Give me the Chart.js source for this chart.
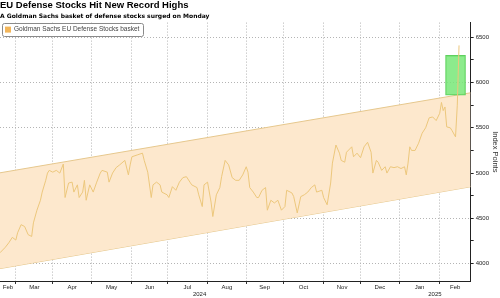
<!DOCTYPE html>
<html>
<head>
<meta charset="utf-8">
<script src="https://cdn.jsdelivr.net/npm/chart.js@4.4.1/dist/chart.umd.min.js"></script>
<style>
  html, body { margin: 0; padding: 0; background: #fff; }
  #wrap { width: 500px; height: 298px; }
</style>
</head>
<body>
<div id="wrap"><canvas id="chart" width="500" height="298"></canvas></div>
<script>
// x = trading sessions counted from Mon 19 Feb 2024 (session 0)
var sessions = [
  0, 3, 5, 7, 9, 10, 12, 14, 16, 18,
  19, 21, 23, 24, 26, 27, 28, 30, 32, 34,
  36, 37, 39, 41, 42, 44, 45, 47, 48, 49,
  51, 53, 55, 57, 58, 61, 62, 64, 66, 68,
  71, 73, 74, 75, 78, 81, 82, 84, 86, 87,
  89, 91, 92, 95, 96, 98, 100, 102, 104, 106,
  108, 109, 112, 113, 115, 116, 118, 120, 121, 123,
  125, 126, 128, 130, 132, 134, 136, 138, 140, 141,
  142, 144, 146, 147, 149, 151, 152, 154, 156, 158,
  160, 162, 163, 166, 167, 169, 171, 173, 175, 177,
  179, 180, 183, 184, 186, 188, 189, 191, 193, 194,
  196, 197, 200, 201, 203, 205, 207, 209, 211, 212,
  214, 215, 217, 219, 220, 222, 224, 226, 228, 230,
  231, 232, 233, 234, 236, 238, 240, 242, 244, 246,
  248, 250, 251, 252, 253, 254, 256, 257, 259, 260,
  261
];
var basket = [
  4120, 4180, 4230, 4290, 4260, 4340, 4430, 4410, 4320, 4300,
  4450, 4590, 4700, 4790, 4920, 5000, 5030, 5010, 5030, 5000,
  5100, 4730, 4890, 4900, 4790, 4870, 4730, 4790, 4920, 4700,
  4870, 4790, 4900, 5000, 5030, 5010, 4900, 5000, 5060, 5090,
  5140, 4980, 5090, 5180, 5200, 5220, 5140, 5010, 4730, 4870,
  4900, 4870, 4790, 4760, 4730, 4850, 4810, 4900, 4950, 4960,
  4900, 4870, 4840, 4760, 4630, 4870, 4900, 4680, 4520, 4760,
  4840, 4960, 5140, 5090, 4950, 4920, 4920, 4980, 5070, 5010,
  4840, 4790, 4730, 4730, 4810, 4840, 4590, 4700, 4670, 4700,
  4590, 4630, 4810, 4780, 4740, 4560, 4740, 4760, 4790, 4840,
  4870, 4790, 4810, 4730, 4650, 4890, 5110, 5310, 5220, 5140,
  5120, 5230, 5290, 5180, 5220, 5170, 5290, 5340, 5230, 5000,
  5140, 5120, 5030, 5070, 5000, 5070, 5060, 5070, 5050, 5070,
  4980, 5110, 5290, 5250, 5250, 5330, 5440, 5500, 5610, 5620,
  5580, 5660, 5780, 5690, 5730, 5510, 5500, 5470, 5400, 5750,
  6410
];

// first session of each month, Mar 2024 .. Feb 2025
var monthStarts = [9, 30, 52, 75, 95, 118, 140, 161, 184, 205, 227, 250];
var monthNames = ['Feb', 'Mar', 'Apr', 'May', 'Jun', 'Jul', 'Aug', 'Sep', 'Oct', 'Nov', 'Dec', 'Jan', 'Feb'];
var yearNames = ['2024', '2025'];
var yearStart = 227;
var xMin = 0;
var xMax = 267.6;

// trend channel, value at left and right edge
var upperChannel = [5003, 5887];
var lowerChannel = [3945, 4849];

// green highlight box
var boxSession = 259;
var boxRange = [5860, 6300];

var yTicks = [4000, 4250, 4500, 4750, 5000, 5250, 5500, 5750, 6000, 6250, 6500];
var yMin = 3808;
var yMax = 6662;

Chart.defaults.font.family = "'Liberation Sans Narrow', 'Liberation Sans', Arial, sans-serif";
Chart.defaults.color = '#222';

// month labels sit in the middle of each month
var edges = [xMin].concat(monthStarts, [xMax]);
var monthMids = [];
for (var i = 0; i < edges.length - 1; i++) {
    monthMids.push((edges[i] + edges[i + 1]) / 2);
}
var yearMids = [(xMin + yearStart) / 2, (yearStart + xMax) / 2];

var priceData = sessions.map(function (s, i) { return {x: s, y: basket[i]}; });

var gridGrey = '#b4b4b4';

// boxed legend in the top left corner of the plot
var legendBox = {
    id: 'legendBox',
    afterDatasetsDraw: function (chart) {
        var ds = chart.data.datasets[0];
        var area = chart.chartArea;
        var c = chart.ctx;
        c.save();
        c.font = "6.5px 'Liberation Sans', Arial, sans-serif";
        var tw = c.measureText(ds.label).width;
        var x = area.left + 2, y = area.top;
        var w = tw + 16, h = 13;
        c.fillStyle = '#fff';
        c.strokeStyle = '#8a8a8a';
        c.lineWidth = 1;
        c.beginPath();
        c.roundRect(Math.round(x) + 0.5, Math.round(y) + 0.5, Math.round(w), h, 2);
        c.fill();
        c.stroke();
        c.fillStyle = ds.backgroundColor;
        c.fillRect(x + 3, y + 4, 6, 6);
        c.fillStyle = '#444';
        c.textBaseline = 'middle';
        c.fillText(ds.label, x + 12, y + 7);
        c.restore();
    }
};

var chart = new Chart(document.getElementById('chart').getContext('2d'), {
    data: {
        datasets: [{
            type: 'line',
            label: 'Goldman Sachs EU Defense Stocks basket',
            data: priceData,
            borderColor: '#ecc77c',
            backgroundColor: '#f3b65a',
            borderWidth: 1,
            pointRadius: 0,
            tension: 0
        }, {
            type: 'bar',
            label: 'box',
            data: [{x: boxSession, y: boxRange}],
            backgroundColor: 'rgba(120, 232, 120, 0.85)',
            borderColor: '#5fcf5f',
            borderWidth: 1,
            borderSkipped: false,
            barThickness: 20
        }, {
            type: 'line',
            label: 'upper',
            data: [{x: xMin, y: upperChannel[0]}, {x: xMax, y: upperChannel[1]}],
            borderColor: '#e6c88e',
            backgroundColor: '#fde8cd',
            borderWidth: 1,
            pointRadius: 0,
            fill: '+1'
        }, {
            type: 'line',
            label: 'lower',
            data: [{x: xMin, y: lowerChannel[0]}, {x: xMax, y: lowerChannel[1]}],
            borderColor: '#e6c88e',
            borderWidth: 1,
            pointRadius: 0,
            fill: false
        }]
    },
    options: {
        responsive: false,
        animation: false,
        devicePixelRatio: 1,
        layout: {padding: 0},
        plugins: {
            title: {
                display: true,
                text: 'EU Defense Stocks Hit New Record Highs',
                align: 'start',
                color: '#000',
                font: {size: 9.5, weight: 'bold', family: "'Liberation Sans', Arial, sans-serif"},
                padding: {top: 0, bottom: 0}
            },
            subtitle: {
                display: true,
                text: 'A Goldman Sachs basket of defense stocks surged on Monday',
                align: 'start',
                color: '#000',
                font: {size: 6, weight: 'bold', family: "'DejaVu Sans', sans-serif"},
                padding: {top: 1, bottom: 3}
            },
            legend: {display: false},
            tooltip: {enabled: false}
        },
        scales: {
            x: {
                type: 'linear',
                min: xMin,
                max: xMax,
                offset: false,
                afterBuildTicks: function (scale) {
                    var t = monthStarts.concat(monthMids).sort(function (a, b) { return a - b; });
                    scale.ticks = t.map(function (v) { return {value: v}; });
                },
                ticks: {
                    autoSkip: false,
                    maxRotation: 0,
                    padding: 0,
                    font: {size: 6, lineHeight: 1},
                    callback: function (v) {
                        var k = monthMids.indexOf(v);
                        return k >= 0 ? monthNames[k] : '';
                    }
                },
                grid: {
                    offset: false,
                    color: function (ctx) {
                        return ctx.tick && monthStarts.indexOf(ctx.tick.value) >= 0 ? gridGrey : 'rgba(0,0,0,0)';
                    },
                    tickColor: function (ctx) {
                        return ctx.tick && monthStarts.indexOf(ctx.tick.value) >= 0 ? '#333' : 'rgba(0,0,0,0)';
                    },
                    tickLength: 3,
                    lineWidth: 1
                },
                border: {display: true, color: '#222', width: 1, dash: [1, 2]}
            },
            years: {
                type: 'linear',
                position: 'bottom',
                min: xMin,
                max: xMax,
                offset: false,
                afterBuildTicks: function (scale) {
                    scale.ticks = yearMids.map(function (v) { return {value: v}; });
                },
                ticks: {
                    autoSkip: false,
                    maxRotation: 0,
                    padding: 1,
                    font: {size: 6, lineHeight: 1},
                    callback: function (v) {
                        var k = yearMids.indexOf(v);
                        return k >= 0 ? yearNames[k] : '';
                    }
                },
                grid: {
                    drawOnChartArea: false,
                    drawTicks: false,
                    offset: false
                },
                border: {display: false}
            },
            y: {
                type: 'linear',
                position: 'right',
                min: yMin,
                max: yMax,
                afterBuildTicks: function (scale) {
                    scale.ticks = yTicks.map(function (v) { return {value: v}; });
                },
                ticks: {
                    padding: 2,
                    font: {size: 6},
                    callback: function (v) { return v % 500 === 0 ? String(v) : ''; }
                },
                grid: {
                    color: function (ctx) {
                        return ctx.tick && ctx.tick.value % 500 === 0 ? gridGrey : 'rgba(0,0,0,0)';
                    },
                    tickColor: '#222',
                    tickLength: 3
                },
                border: {display: true, color: '#222', width: 1, dash: [1, 2]},
                title: {
                    display: true,
                    text: 'Index Points',
                    font: {size: 7.5},
                    color: '#333',
                    padding: {top: 0, bottom: 0}
                }
            }
        }
    },
    plugins: [legendBox]
});
</script>
</body>
</html>
